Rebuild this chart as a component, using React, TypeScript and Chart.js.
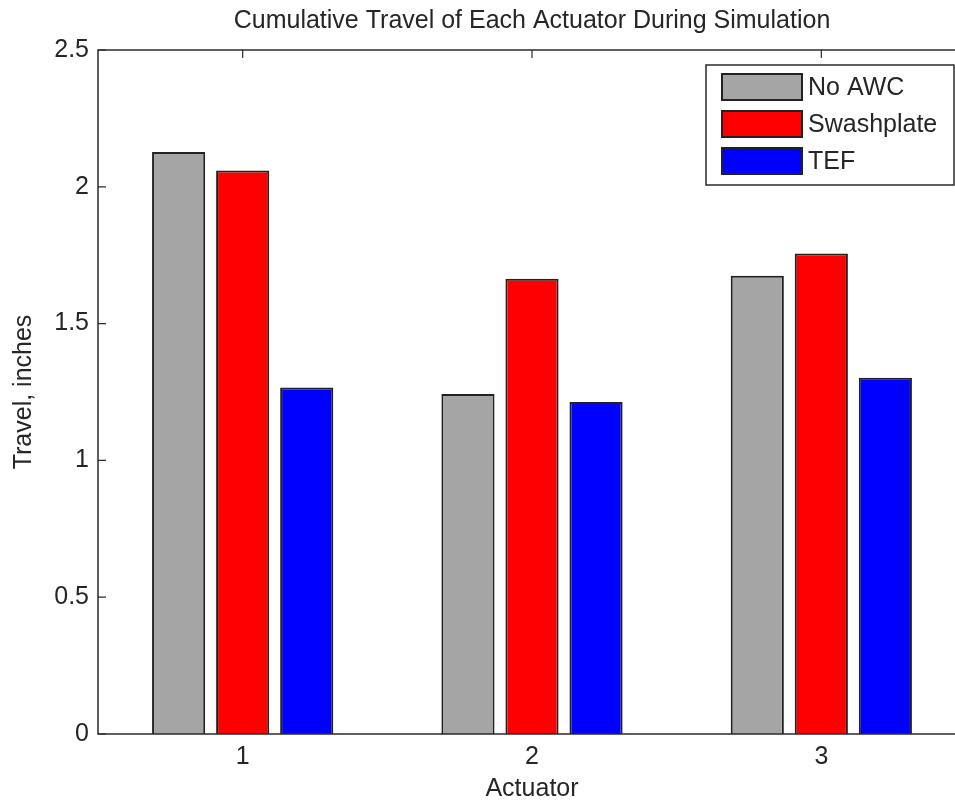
import React, { useEffect, useRef } from "react";
import { Chart, registerables } from "chart.js";

Chart.register(...registerables);

const categories = ["1", "2", "3"];
const seriesNames = ["No AWC", "Swashplate", "TEF"];
const noAwc = [2.127, 1.243, 1.675];
const swashplate = [2.06, 1.664, 1.756];
const tef = [1.266, 1.213, 1.302];
const seriesColors = ["#a5a5a5", "#ff0000", "#0000ff"];
const yTicks = [0, 0.5, 1, 1.5, 2, 2.5];
const titleText = "Cumulative Travel of Each Actuator During Simulation";
const xTitle = "Actuator";
const yTitle = "Travel, inches";

const FONT = "'Liberation Sans', Arial, sans-serif";
const TEXT = "#262626";
const AXIS = "#2b2b2b";
const FS = 25;

const framePlugin = {
  id: "frame",
  afterDraw(chart: any) {
    const { ctx, chartArea } = chart;
    const { left, right, top, bottom } = chartArea;
    const yScale = chart.scales.y;
    const xScale = chart.scales.x;
    ctx.save();
    // box
    ctx.strokeStyle = AXIS;
    ctx.lineWidth = 1.5;
    ctx.beginPath();
    ctx.moveTo(left, top);
    ctx.lineTo(right, top);
    ctx.lineTo(right, bottom);
    ctx.lineTo(left, bottom);
    ctx.closePath();
    ctx.stroke();
    // inward ticks
    ctx.lineWidth = 1.2;
    yTicks.forEach((v) => {
      const y = yScale.getPixelForValue(v);
      ctx.beginPath();
      ctx.moveTo(left, y);
      ctx.lineTo(left + 8, y);
      ctx.moveTo(right, y);
      ctx.lineTo(right - 8, y);
      ctx.stroke();
    });
    categories.forEach((_, i) => {
      const x = xScale.getPixelForValue(i);
      ctx.beginPath();
      ctx.moveTo(x, top);
      ctx.lineTo(x, top + 8);
      ctx.stroke();
    });
    // title
    ctx.fillStyle = TEXT;
    ctx.font = `${FS}px ${FONT}`;
    ctx.textAlign = "center";
    ctx.textBaseline = "middle";
    ctx.fillText(titleText, (left + right) / 2, 21);
    // x title
    ctx.fillText(xTitle, (left + right) / 2, 789);
    // y title
    ctx.save();
    ctx.translate(24, (top + bottom) / 2);
    ctx.rotate(-Math.PI / 2);
    ctx.fillText(yTitle, 0, 0);
    ctx.restore();
    // legend
    const lx = 706, ly = 65, lw = 248, lh = 120;
    ctx.fillStyle = "#ffffff";
    ctx.fillRect(lx, ly, lw, lh);
    ctx.strokeStyle = AXIS;
    ctx.lineWidth = 1.5;
    ctx.strokeRect(lx, ly, lw, lh);
    const rows = [87, 124, 161];
    chart.data.datasets.forEach((ds: any, i: number) => {
      const cy = rows[i];
      ctx.fillStyle = ds.backgroundColor;
      ctx.fillRect(722, cy - 13, 80, 26);
      ctx.strokeStyle = "#222";
      ctx.lineWidth = 2;
      ctx.strokeRect(722, cy - 13, 80, 26);
      ctx.fillStyle = TEXT;
      ctx.font = `${FS}px ${FONT}`;
      ctx.textAlign = "left";
      ctx.textBaseline = "middle";
      ctx.fillText(ds.label, 808, cy + 1);
    });
    ctx.restore();
  },
};

export default function App() {
  const ref = useRef<HTMLCanvasElement>(null);
  useEffect(() => {
    if (!ref.current) return;
    const values = [noAwc, swashplate, tef];
    const chart = new Chart(ref.current, {
      type: "bar",
      data: {
        labels: categories,
        datasets: seriesNames.map((name, i) => ({
          label: name,
          data: values[i],
          backgroundColor: seriesColors[i],
          borderColor: "#222222",
          borderWidth: 2,
          categoryPercentage: 0.664,
          barPercentage: 0.83,
        })),
      },
      options: {
        animation: false,
        responsive: false,
        devicePixelRatio: 1,
        layout: { padding: { top: 50, right: 9, left: 0, bottom: 0 } },
        plugins: {
          legend: { display: false },
          title: { display: false },
          tooltip: { enabled: false },
        },
        scales: {
          x: {
            type: "category",
            offset: true,
            grid: { display: false, drawTicks: false },
            border: { display: false },
            ticks: {
              color: TEXT,
              font: { size: FS, family: FONT },
              padding: 8,
              maxRotation: 0,
            },
            afterFit: (s: any) => {
              s.height = 68;
            },
          },
          y: {
            min: 0,
            max: 2.5,
            afterBuildTicks: (s: any) => {
              s.ticks = yTicks.map((v) => ({ value: v }));
            },
            grid: { display: false, drawTicks: false },
            border: { display: false },
            ticks: {
              color: TEXT,
              font: { size: FS, family: FONT },
              padding: 9,
              callback: (v: any) => String(v),
            },
            afterFit: (s: any) => {
              s.width = 98;
            },
          },
        },
      },
      plugins: [framePlugin],
    });
    return () => chart.destroy();
  }, []);
  return (
    <div
      style={{
        position: "absolute",
        left: 0,
        top: 0,
        width: 955,
        height: 802,
        overflow: "hidden",
        background: "#fff",
      }}
    >
      <canvas ref={ref} width={975} height={802} style={{ width: 975, height: 802, display: "block" }} />
    </div>
  );
}
